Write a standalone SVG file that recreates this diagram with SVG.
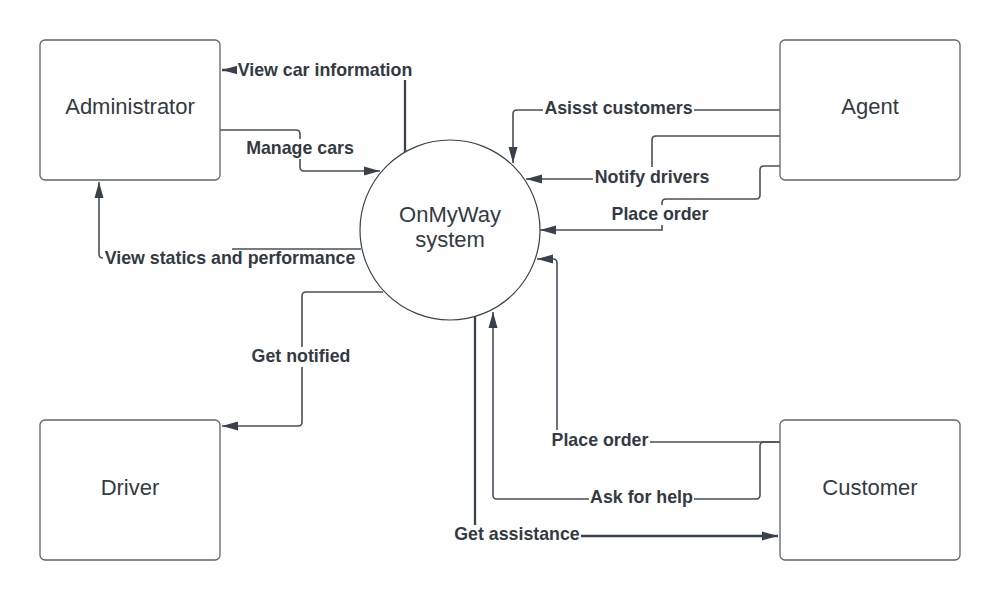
<svg xmlns="http://www.w3.org/2000/svg" width="1000" height="600" viewBox="0 0 1000 600">
<defs>
<marker id="arr" markerUnits="userSpaceOnUse" markerWidth="18" markerHeight="12" refX="16" refY="6" orient="auto">
<path d="M0,1.5 L16,6 L0,10.5 Z" fill="#3a414a"/>
</marker>
<style>
.box{fill:#fff;stroke:#5f636a;stroke-width:1.3}
.circ{fill:#fff;stroke:#3a414a;stroke-width:1.2}
.nt{font-family:"Liberation Sans",Arial,sans-serif;font-size:22px;fill:#333a43;text-anchor:middle}
.ln{fill:none;stroke:#4a5058;stroke-width:1.6;marker-end:url(#arr)}
.thick{stroke:#3a414a;stroke-width:2.3}
.lt{font-family:"Liberation Sans",Arial,sans-serif;font-size:17.8px;font-weight:bold;fill:#333a43;text-anchor:middle}
.bg{fill:#fff}
</style>
</defs>
<rect width="1000" height="600" fill="#fff"/>

<g id="connectors">
<path class="ln thick" d="M405,152 V70 H222"/>
<path class="ln" d="M220,130 H296 Q300,130 300,134 V167 Q300,171 304,171 H380"/>
<path class="ln" d="M361,249 H233 V258 H103 Q99,258 99,254 V182"/>
<path class="ln" d="M383,292 H306 Q302,292 302,296 V422 Q302,426 298,426 H222"/>
<path class="ln" d="M780,110 H517 Q513,110 513,114 V163"/>
<path class="ln" d="M780,136 H656 Q652,136 652,140 V179 H526"/>
<path class="ln" d="M780,166 H764 Q760,166 760,170 V195 Q760,199 756,199 H666 Q662,199 662,203 V230 H540"/>
<path class="ln" d="M780,442 H557 V263 Q557,259 553,259 H537"/>
<path class="ln" d="M780,442 H764 Q760,442 760,446 V495 Q760,499 756,499 H497 Q493,499 493,495 V312"/>
<path class="ln thick" d="M475,317 V536 H778"/>

<rect class="bg" x="237" y="60" width="176" height="20"/>
<text class="lt" x="325" y="75.5">View car information</text>
<rect class="bg" x="246" y="139" width="109" height="20"/>
<text class="lt" x="300" y="154">Manage cars</text>
<rect class="bg" x="103" y="250" width="255" height="18"/>
<text class="lt" x="230" y="263.5">View statics and performance</text>
<rect class="bg" x="251" y="347" width="101" height="20"/>
<text class="lt" x="301" y="362">Get notified</text>
<rect class="bg" x="543" y="99" width="151" height="20"/>
<text class="lt" x="618.5" y="114">Asisst customers</text>
<rect class="bg" x="593" y="167" width="118" height="20"/>
<text class="lt" x="652" y="182.5">Notify drivers</text>
<rect class="bg" x="610" y="205" width="100" height="20"/>
<text class="lt" x="660" y="220">Place order</text>
<rect class="bg" x="550" y="430" width="100" height="20"/>
<text class="lt" x="600" y="446">Place order</text>
<rect class="bg" x="589" y="488" width="105" height="20"/>
<text class="lt" x="641.5" y="503">Ask for help</text>
<rect class="bg" x="453" y="525" width="128" height="20"/>
<text class="lt" x="517" y="540">Get assistance</text>
</g>

<g id="administrator">
<rect class="box" x="40" y="40" width="180" height="140" rx="5"/>
<text class="nt" x="130" y="114">Administrator</text>
</g>
<g id="agent">
<rect class="box" x="780" y="40" width="180" height="140" rx="5"/>
<text class="nt" x="870" y="114">Agent</text>
</g>
<g id="driver">
<rect class="box" x="40" y="420" width="180" height="140" rx="5"/>
<text class="nt" x="130" y="495">Driver</text>
</g>
<g id="customer">
<rect class="box" x="780" y="420" width="180" height="140" rx="5"/>
<text class="nt" x="870" y="495">Customer</text>
</g>
<g id="system">
<circle class="circ" cx="450" cy="230" r="90"/>
<text class="nt" x="450" y="222">OnMyWay</text>
<text class="nt" x="450" y="247">system</text>
</g>
</svg>
